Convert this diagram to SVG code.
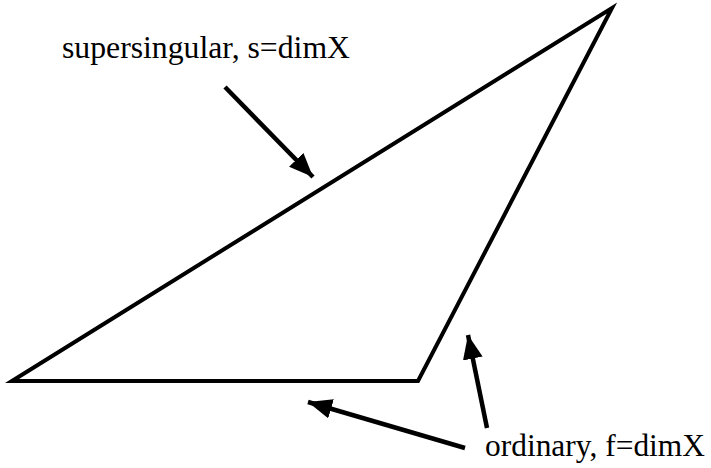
<svg xmlns="http://www.w3.org/2000/svg" width="711" height="468" viewBox="0 0 711 468">
<defs>
<marker id="ah" viewBox="0 0 24 20" refX="24" refY="10" markerWidth="24" markerHeight="20" markerUnits="userSpaceOnUse" orient="auto">
<path d="M0,0 L24,10 L0,20 z" fill="#000"/>
</marker>
<style>
.lbl{font-family:"Liberation Serif","Times New Roman",serif;font-size:31px;fill:#000}
.edge{fill:none;stroke:#000;stroke-width:4;stroke-linejoin:miter}
.arr{fill:none;stroke:#000;stroke-width:4.5}
</style>
</defs>
<rect width="711" height="468" fill="#fff"/>
<g id="triangle">
<polygon class="edge" points="12,381 612,8 418,381"/>
</g>
<g id="label-supersingular">
<text class="lbl" x="62" y="58" textLength="288" lengthAdjust="spacingAndGlyphs">supersingular, s=dimX</text>
</g>
<g id="label-ordinary">
<text class="lbl" x="485" y="456" textLength="220" lengthAdjust="spacingAndGlyphs">ordinary, f=dimX</text>
</g>
<g id="connectors">
<line class="arr" x1="225" y1="87" x2="313" y2="177" marker-end="url(#ah)"/>
<line class="arr" x1="465" y1="448" x2="308" y2="402" marker-end="url(#ah)"/>
<line class="arr" x1="487" y1="428" x2="468" y2="335" marker-end="url(#ah)"/>
</g>
</svg>
